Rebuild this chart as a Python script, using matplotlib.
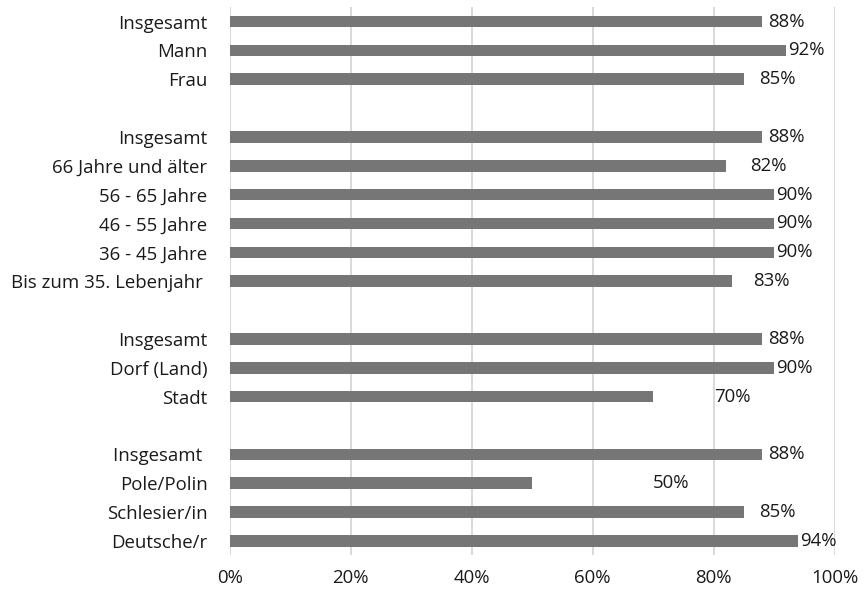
import matplotlib
matplotlib.use('agg')
from matplotlib import pyplot as plt
from matplotlib.ticker import PercentFormatter

# groups, listed top to bottom as in the chart
gender = ['Insgesamt', 'Mann', 'Frau']
gender_vals = [88, 92, 85]

age = ['Insgesamt', '66 Jahre und älter', '56 - 65 Jahre', '46 - 55 Jahre',
       '36 - 45 Jahre', 'Bis zum 35. Lebenjahr ']
age_vals = [88, 82, 90, 90, 90, 83]

place = ['Insgesamt', 'Dorf (Land)', 'Stadt']
place_vals = [88, 90, 70]

nation = ['Insgesamt ', 'Pole/Polin', 'Schlesier/in', 'Deutsche/r']
nation_vals = [88, 50, 85, 94]

x_ticks = [0, 20, 40, 60, 80, 100]


def build_rows(groups):
    # flatten the groups with an empty row in between
    labels, values = [], []
    for i, (names, vals) in enumerate(groups):
        if i > 0:
            labels.append(None)
            values.append(None)
        labels += names
        values += vals
    return labels, values


labels, values = build_rows([(gender, gender_vals), (age, age_vals),
                             (place, place_vals), (nation, nation_vals)])
n = len(labels)

plt.rcParams['font.family'] = ['Open Sans', 'DejaVu Sans']
fig = plt.figure(figsize=(8.64, 5.92), dpi=100)
ax = fig.add_axes([0.266, 0.062, 0.700, 0.926])

ys, vs, names = [], [], []
for i, (lab, v) in enumerate(zip(labels, values)):
    if lab is None:
        continue
    ys.append(n - 1 - i)
    vs.append(v)
    names.append(lab)

ax.barh(ys, vs, height=0.4, color='#767676', zorder=2)

# value labels (Excel pushed the short ones further right)
for y, v in zip(ys, vs):
    ax.text(max(45 + v / 2, v + 0.3), y, f'{v}%', va='center', ha='left',
            fontsize=13.4, color='#1a1a1a')

ax.set_xlim(0, 100)
ax.set_ylim(-0.5, n - 0.5)
ax.set_xticks(x_ticks)
ax.xaxis.set_major_formatter(PercentFormatter(decimals=0))
ax.set_yticks(ys)
ax.set_yticklabels(names)
ax.tick_params(length=0, labelsize=13.4, colors='#1a1a1a')
ax.tick_params(axis='y', pad=16)
ax.tick_params(axis='x', pad=10)
ax.xaxis.grid(True, color='#d9d9d9', linewidth=1.4)
ax.set_axisbelow(True)
for s in ax.spines.values():
    s.set_visible(False)

fig.savefig('out.png', dpi=100)
plt.close(fig)
